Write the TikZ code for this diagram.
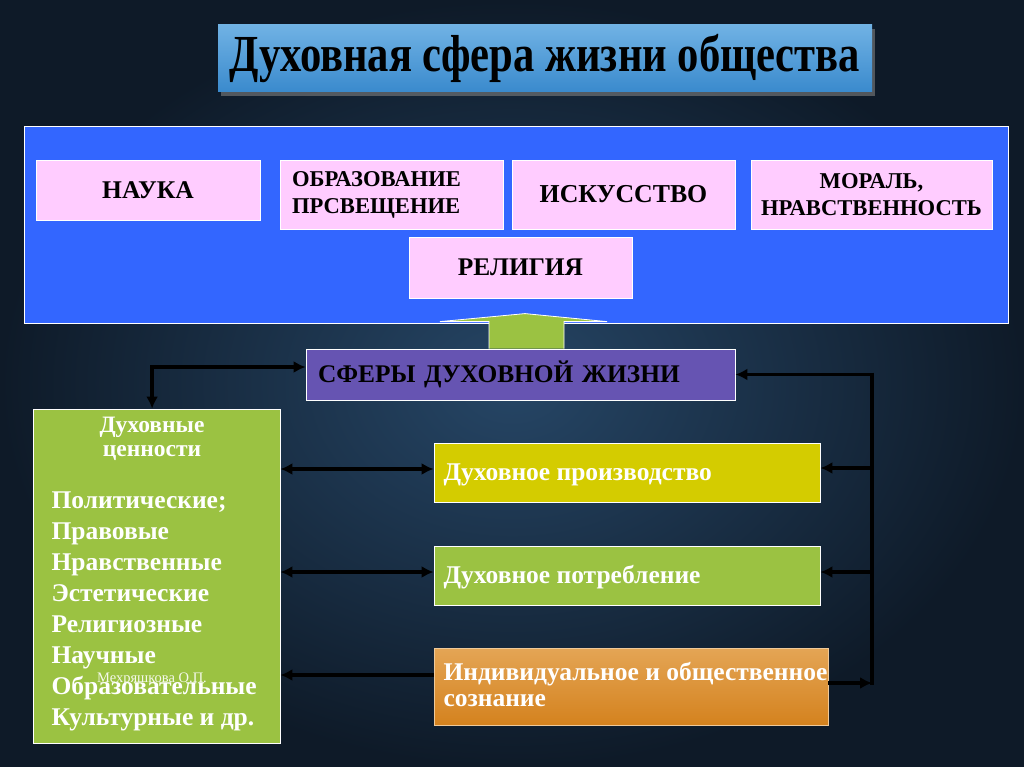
\documentclass[tikz,border=0pt]{standalone}
\usepackage{fontspec}
\setmainfont{Liberation Serif}
\newfontfamily\titlefont[FakeStretch=0.82]{Liberation Serif}
\usetikzlibrary{arrows.meta,shadows,calc}
\definecolor{bgin}{RGB}{38,70,102}
\definecolor{bgout}{RGB}{14,26,40}
\definecolor{bigblue}{RGB}{51,102,255}
\definecolor{pinkbox}{RGB}{255,204,255}
\definecolor{purplebox}{RGB}{102,84,178}
\definecolor{greenbox}{RGB}{155,194,66}
\definecolor{yellowbox}{RGB}{212,204,0}
\definecolor{orangetop}{RGB}{228,165,85}
\definecolor{orangebot}{RGB}{212,130,30}
\definecolor{titletop}{RGB}{112,178,228}
\definecolor{titlebot}{RGB}{58,138,205}
\begin{document}
\begin{tikzpicture}[x=1pt,y=-1pt,
  box/.style={draw=white,line width=0.8pt,inner sep=0pt,font=\bfseries},
  pinkb/.style={box,fill=pinkbox,text=black,align=center},
  conn/.style={draw=black,line width=3.6pt,-{Latex[length=12pt,width=12pt]}},
  dconn/.style={draw=black,line width=3.6pt,{Latex[length=12pt,width=12pt]}-{Latex[length=12pt,width=12pt]}},
  lefttext/.style={text=white,font=\bfseries\fontsize{25.5}{31}\selectfont},
  righttext/.style={text=white,font=\bfseries\fontsize{25.5}{26}\selectfont}
]
% background
\shade[inner color=bgin,outer color=bgout] (0,0) rectangle (1024,767);
\useasboundingbox (0,0) rectangle (1024,767);

% title
\node[box,draw=none,minimum width=654pt,minimum height=67pt,top color=titletop,bottom color=titlebot,
  drop shadow={shadow xshift=3pt,shadow yshift=-4pt,opacity=0.6},
  font=\titlefont\bfseries\fontsize{52}{56}\selectfont] (title) at (545,58.5) {Духовная сфера жизни общества};

% big blue panel
\node[box,fill=bigblue,minimum width=984pt,minimum height=197pt] (panel) at (516,224.5) {};

% pink boxes
\node[pinkb,minimum width=224pt,minimum height=60pt,font=\bfseries\fontsize{25.5}{28}\selectfont] (nauka) at (148,190) {НАУКА};
\node[pinkb,minimum width=223pt,minimum height=69pt,text width=199pt,align=left,font=\bfseries\fontsize{22.6}{27}\selectfont] (obraz) at (391.5,194.5) {ОБРАЗОВАНИЕ\\ПРСВЕЩЕНИЕ};
\node[pinkb,minimum width=223pt,minimum height=69pt,font=\bfseries\fontsize{25.8}{28}\selectfont] (isk) at (623.5,194.5) {ИСКУССТВО};
\node[pinkb,minimum width=241pt,minimum height=69pt,font=\bfseries\fontsize{22.6}{27}\selectfont] (moral) at (871.5,194.5) {МОРАЛЬ,\\НРАВСТВЕННОСТЬ};
\node[pinkb,minimum width=223pt,minimum height=61pt,font=\bfseries\fontsize{25.4}{28}\selectfont] (relig) at (520.5,267.5) {РЕЛИГИЯ};

% spheres box
\node[box,fill=purplebox,minimum width=429pt,minimum height=51pt,text width=405pt,align=left,
  font=\bfseries\fontsize{25.4}{30}\selectfont] (sfery) at (520.5,374.5) {СФЕРЫ ДУХОВНОЙ ЖИЗНИ};

% block arrow from spheres up to panel
\filldraw[fill=greenbox,draw=white,line width=0.8pt]
  ($(sfery.north)+(-31.5,0)$) -- ($(sfery.north)+(-31.5,-27)$) -- ($(sfery.north)+(-80.5,-27)$)
  -- ($(sfery.north)+(4.5,-35)$) -- ($(sfery.north)+(86.5,-27)$) -- ($(sfery.north)+(43.5,-27)$)
  -- ($(sfery.north)+(43.5,0)$);

% values box
\node[box,fill=greenbox,minimum width=247pt,minimum height=334pt] (values) at (156.5,576) {};
\node[anchor=north,text=white,align=center,font=\bfseries\fontsize{23.5}{24}\selectfont] (valtitle) at (152,414) {Духовные\\ценности};
\node[anchor=north west,lefttext,align=left] (vallist) at (48,488) {Политические;\\Правовые\\Нравственные\\Эстетические\\Религиозные\\Научные\\Образовательные\\Культурные и др.};
\node[text=white,opacity=0.9,font=\fontsize{14.5}{15}\selectfont] (mark) at (152,679) {Мехряшкова О.П.};

% right boxes
\node[box,fill=yellowbox,minimum width=386pt,minimum height=59pt] (prod) at (627,472.5) {};
\node[anchor=west,righttext] (prodtext) at (440,474.5) {Духовное производство};
\node[box,fill=greenbox,minimum width=386pt,minimum height=59pt] (potr) at (627,575.5) {};
\node[anchor=west,righttext] (potrtext) at (440,577.5) {Духовное потребление};
\node[box,draw=orangetop!60!white,line width=0.6pt,top color=orangetop,bottom color=orangebot,minimum width=394pt,minimum height=77pt] (soz) at (631,686.5) {};
\node[anchor=north west,righttext,align=left] (soztext) at (440,659) {Индивидуальное и общественное\\сознание};

% connector anchor points
\coordinate (prodL) at ([yshift=3.5pt]prod.west);
\coordinate (potrL) at ([yshift=3.5pt]potr.west);
\coordinate (sozL) at ([yshift=11.5pt]soz.west);
\coordinate (prodR) at ([yshift=4.5pt]prod.east);
\coordinate (potrR) at ([yshift=3.5pt]potr.east);
\coordinate (sferyL) at ([yshift=7.5pt]sfery.west);
\coordinate (valtop) at ([xshift=119.5pt]values.north west);

% connectors left side
\draw[dconn] (valtop) |- (sferyL);
\draw[dconn] (values.east |- prodL) -- (prodL);
\draw[dconn] (values.east |- potrL) -- (potrL);
\draw[conn] (sozL) -- (values.east |- sozL);

% right bus
\coordinate (bustop) at (872,374.5);
\coordinate (busbot) at (872,683);
\draw[line width=3.6pt] ([yshift=1.8pt]bustop) -- ([yshift=-1.8pt]busbot);
\draw[conn] (soz.east |- busbot) -- (busbot);
\draw[conn] (bustop) -- (sfery.east);
\draw[conn] (bustop |- prodR) -- (prodR);
\draw[conn] (bustop |- potrR) -- (potrR);
\end{tikzpicture}
\end{document}
